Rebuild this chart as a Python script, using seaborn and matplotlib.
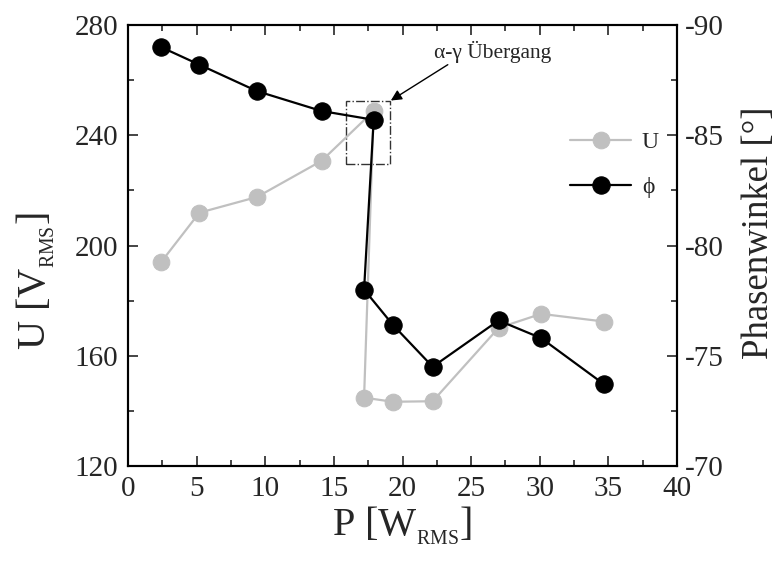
import matplotlib
matplotlib.use("Agg")
import matplotlib.pyplot as plt
import matplotlib.patches as mpatches
from matplotlib.ticker import MultipleLocator
import seaborn as sns
import pandas as pd

# ---- data ----
power = [2.4, 5.2, 9.4, 14.1, 17.9, 17.2, 19.3, 22.2, 27.0, 30.1, 34.7]
voltage = [193.9, 211.9, 217.6, 230.7, 248.8, 144.8, 143.3, 143.5, 170.1, 175.2, 172.4]
phase = [-89.0, -88.2, -87.0, -86.1, -85.7, -78.0, -76.4, -74.5, -76.6, -75.8, -73.7]
legend_labels = ["U", "\u03d5"]
x_label = r"P [W$_{_{\mathrm{RMS}}}$]"
y_label = r"U [V$_{_{\mathrm{RMS}}}$]"
y2_label = "Phasenwinkel [°]"
annot_text = "α-γ Übergang"

df = pd.DataFrame({"P": power, "U": voltage, "phi": phase})

sns.set_theme(style="ticks")
plt.rcParams["font.family"] = ["Liberation Serif", "DejaVu Serif"]
plt.rcParams["mathtext.fontset"] = "custom"
plt.rcParams["mathtext.rm"] = "Liberation Serif"
plt.rcParams["mathtext.it"] = "Liberation Serif:italic"
plt.rcParams["axes.linewidth"] = 1.5
plt.rcParams["axes.unicode_minus"] = False

fig = plt.figure(figsize=(7.81, 5.67), dpi=100)
ax = fig.add_axes([128 / 781, 1 - 466 / 567, (677 - 128) / 781, (466 - 25) / 567])
ax2 = ax.twinx()

sns.lineplot(data=df, x="P", y="U", ax=ax, sort=False, estimator=None,
             color="#c0c0c0", lw=1.6, marker="o", markersize=12,
             markeredgecolor="#c0c0c0", markerfacecolor="#c0c0c0", legend=False)
sns.lineplot(data=df, x="P", y="phi", ax=ax2, sort=False, estimator=None,
             color="black", lw=1.6, marker="o", markersize=12.5,
             markeredgecolor="black", markerfacecolor="black", legend=False)

ax.set_xlim(0, 40)
ax.set_ylim(120, 280)
ax2.set_ylim(-70, -90)

ax.xaxis.set_major_locator(MultipleLocator(5))
ax.xaxis.set_minor_locator(MultipleLocator(2.5))
ax.yaxis.set_major_locator(MultipleLocator(40))
ax.yaxis.set_minor_locator(MultipleLocator(20))
ax2.yaxis.set_major_locator(MultipleLocator(5))
ax2.yaxis.set_minor_locator(MultipleLocator(2.5))

for a in (ax, ax2):
    a.tick_params(which="both", direction="in", width=1.2, labelsize=21)
    a.tick_params(which="major", length=7)
    a.tick_params(which="minor", length=4)
    for s in a.spines.values():
        s.set_linewidth(1.5)
        s.set_color("black")
ax.tick_params(axis="x", which="both", top=True, pad=7)
ax.tick_params(axis="y", which="both", right=False, pad=7)
ax2.tick_params(axis="y", which="both", pad=6)

ax.set_xlabel(x_label, fontsize=29, labelpad=2)
ax.set_ylabel(y_label, fontsize=29)
ax2.set_ylabel(y2_label, fontsize=26.5)
ax.yaxis.set_label_coords(-0.13, 0.42)
ax2.yaxis.set_label_coords(1.118, 0.53)

# dash-dot box around transition
rect = mpatches.Rectangle((15.9, 229.7), 3.2, 22.7, fill=False, ls="-.",
                          lw=1.0, edgecolor="#333333", zorder=1)
ax.add_patch(rect)

ax.text(26.6, 270.3, annot_text, fontsize=15.5, ha="center", va="center")
ax.annotate("", xy=(19.15, 252.6), xytext=(23.3, 265.6),
            arrowprops=dict(arrowstyle="-|>", color="black", lw=1.0,
                            mutation_scale=16, shrinkA=0, shrinkB=0))

handles = [ax.lines[0], ax2.lines[0]]
ax2.legend(handles, legend_labels, loc="upper left", bbox_to_anchor=(0.805, 0.759),
           frameon=False, fontsize=17, handlelength=2.6, handletextpad=0.45,
           labelspacing=1.0, borderpad=0, borderaxespad=0)

fig.savefig("out.png", dpi=100)
